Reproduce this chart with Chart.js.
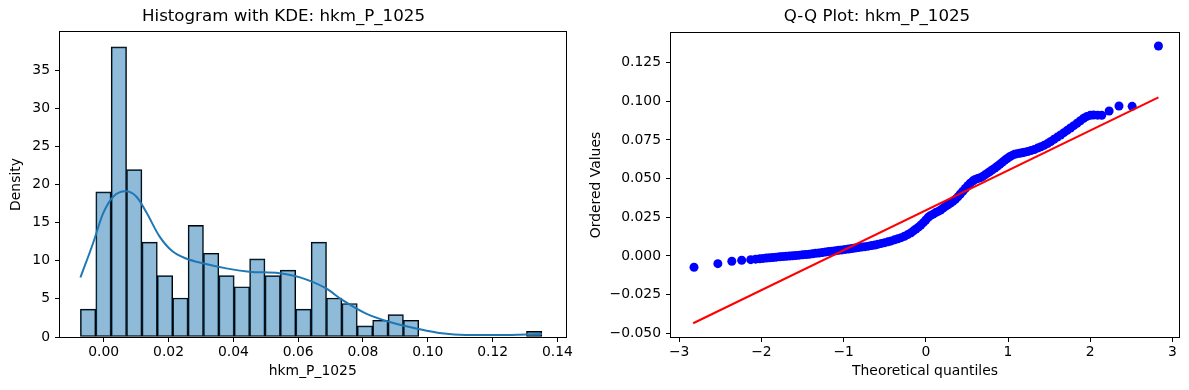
<!DOCTYPE html>
<html>
<head>
<meta charset="utf-8">
<script src="https://cdn.jsdelivr.net/npm/chart.js@4"></script>
<style>
  body { margin: 0; background: #fff; }
  canvas { position: absolute; top: 0; }
</style>
</head>
<body>
<canvas id="histChart" width="575" height="390" style="left:0"></canvas>
<canvas id="qqChart" width="614" height="390" style="left:575px"></canvas>
<script>
const varName = "hkm_P_1025";

// histogram: 30 equal bins from sample min to sample max
const binLow = -0.0072;
const binHigh = 0.1352;
const density = [3.66, 19.03, 38.05, 21.95, 12.44, 8.05, 5.12, 14.64, 10.98, 8.05,
                 6.59, 10.25, 8.05, 8.78, 3.66, 12.44, 5.12, 4.39, 1.46, 2.20,
                 2.93, 2.20, 0, 0, 0, 0, 0, 0, 0, 0.73];

// kde curve
const kdeX = [-0.0072, -0.0033, -0.0002, 0.0029, 0.0068, 0.0101, 0.0131, 0.0172, 0.0213, 0.0254,
              0.0306, 0.0378, 0.0449, 0.0542, 0.0603, 0.0685, 0.0736, 0.0808, 0.0880, 0.0972,
              0.1043, 0.1116, 0.1218, 0.1280, 0.1352];
const kdeY = [7.8, 12.3, 16.2, 18.4, 19.1, 18.4, 16.4, 13.2, 11.2, 10.3,
              9.67, 9.0, 8.57, 8.36, 7.85, 6.4, 4.86, 3.1, 2.0, 1.05,
              0.48, 0.26, 0.26, 0.3, 0.39];

const histXTicks = [0, 0.02, 0.04, 0.06, 0.08, 0.10, 0.12, 0.14];
const histYTicks = [0, 5, 10, 15, 20, 25, 30, 35];

// Q-Q plot: theoretical quantile vs ordered value
const qqX = [-2.82, -2.53, -2.36, -2.24, -2.13, -2.07, -2.02, -1.98, -1.94, -1.90,
             -1.86, -1.82, -1.78, -1.74, -1.70, -1.66, -1.62, -1.58, -1.54, -1.50,
             -1.46, -1.42, -1.38, -1.34, -1.30, -1.26, -1.22, -1.18, -1.14, -1.10,
             -1.06, -1.02, -0.98, -0.94, -0.90, -0.86, -0.82, -0.78, -0.74, -0.70,
             -0.66, -0.62, -0.58, -0.54, -0.50, -0.46, -0.42, -0.38, -0.34, -0.30,
             -0.26, -0.22, -0.18, -0.15, -0.12, -0.09, -0.06, -0.03, 0.00, 0.03,
             0.06, 0.09, 0.12, 0.15, 0.18, 0.21, 0.24, 0.27, 0.30, 0.33,
             0.36, 0.39, 0.42, 0.45, 0.48, 0.51, 0.54, 0.57, 0.60, 0.63,
             0.66, 0.69, 0.72, 0.75, 0.78, 0.81, 0.84, 0.87, 0.90, 0.93,
             0.96, 0.99, 1.02, 1.05, 1.08, 1.11, 1.14, 1.17, 1.20, 1.24,
             1.28, 1.32, 1.36, 1.40, 1.44, 1.48, 1.52, 1.56, 1.60, 1.64,
             1.68, 1.72, 1.76, 1.80, 1.84, 1.88, 1.92, 1.96, 2.00, 2.04,
             2.09, 2.14, 2.23, 2.35, 2.51, 2.83];
const qqY = [-0.0073, -0.0050, -0.0034, -0.0028, -0.0024, -0.0021, -0.0018, -0.0016, -0.0014, -0.0012,
             -0.0010, -0.0008, -0.0006, -0.0004, -0.0002, -0.0001, 0.0001, 0.0003, 0.0005, 0.0007,
             0.0009, 0.0011, 0.0014, 0.0017, 0.0019, 0.0022, 0.0025, 0.0028, 0.0030, 0.0033,
             0.0036, 0.0039, 0.0042, 0.0045, 0.0048, 0.0051, 0.0054, 0.0057, 0.0060, 0.0063,
             0.0067, 0.0071, 0.0076, 0.0081, 0.0086, 0.0091, 0.0097, 0.0104, 0.0111, 0.0118,
             0.0127, 0.0138, 0.0150, 0.0162, 0.0174, 0.0186, 0.0200, 0.0215, 0.0232, 0.0250,
             0.0262, 0.0270, 0.0280, 0.0288, 0.0297, 0.0309, 0.0320, 0.0331, 0.0342, 0.0353,
             0.0366, 0.0382, 0.0400, 0.0418, 0.0436, 0.0454, 0.0470, 0.0484, 0.0494, 0.0500,
             0.0505, 0.0513, 0.0524, 0.0535, 0.0546, 0.0557, 0.0568, 0.0580, 0.0592, 0.0605,
             0.0618, 0.0630, 0.0641, 0.0650, 0.0657, 0.0661, 0.0664, 0.0667, 0.0670, 0.0675,
             0.0681, 0.0688, 0.0697, 0.0706, 0.0715, 0.0726, 0.0740, 0.0754, 0.0768, 0.0782,
             0.0797, 0.0812, 0.0827, 0.0842, 0.0858, 0.0874, 0.0890, 0.0902, 0.0909, 0.0911,
             0.0910, 0.0909, 0.0937, 0.0969, 0.0967, 0.1357];
const fitX = [-2.83, 2.83];
const fitY = [-0.0435, 0.1025];

const qqXTicks = [-3, -2, -1, 0, 1, 2, 3];
const qqYTicks = [-0.05, -0.025, 0, 0.025, 0.05, 0.075, 0.1, 0.125];

Chart.defaults.font.family = "'DejaVu Sans', sans-serif";
Chart.defaults.font.size = 13.9;
Chart.defaults.color = "#000";

// matplotlib style minus sign
const minus = s => s.replace("-", "\u2212");

// box around the plot area (all four spines)
const framePlugin = {
    id: "frame",
    afterDatasetsDraw(chart) {
        const a = chart.chartArea;
        const ctx = chart.ctx;
        ctx.save();
        ctx.strokeStyle = "#000";
        ctx.lineWidth = 1;
        const l = Math.round(a.left) - 0.5, t = Math.round(a.top) - 0.5;
        const r = Math.round(a.right) + 0.5, b = Math.round(a.bottom) + 0.5;
        ctx.strokeRect(l, t, r - l, b - t);
        ctx.restore();
    }
};

function makeAxis(opts) {
    return {
        type: "linear",
        min: opts.min,
        max: opts.max,
        offset: false,
        afterBuildTicks: s => { s.ticks = opts.ticks.map(v => ({ value: v })); },
        afterFit: s => { if (opts.width) s.width = opts.width; if (opts.height) s.height = opts.height; },
        grid: { drawOnChartArea: false, drawTicks: true, tickLength: 5, color: "#000", offset: false },
        border: { display: false },
        ticks: { padding: opts.pad, autoSkip: false, maxRotation: 0, callback: opts.fmt },
        title: { display: true, text: opts.title, font: { size: 13.9 }, padding: opts.titlePad }
    };
}

const titleOpts = (text, bottom) => ({
    display: true,
    text: text,
    font: { size: 16.67, weight: "normal" },
    color: "#000",
    padding: { top: 7, bottom: bottom }
});

// left: histogram with kde
const binWidth = (binHigh - binLow) / density.length;
const histData = density.map((d, i) => ({ x: binLow + binWidth * (i + 0.5), y: d }));
const kdeData = kdeX.map((x, i) => ({ x: x, y: kdeY[i] }));

new Chart(document.getElementById("histChart"), {
    type: "bar",
    data: {
        datasets: [
            {
                type: "line",
                data: kdeData,
                borderColor: "#1f77b4",
                borderWidth: 2,
                pointRadius: 0,
                cubicInterpolationMode: "monotone",
                order: 0
            },
            {
                data: histData,
                backgroundColor: "rgba(31, 119, 180, 0.5)",
                borderColor: "#000",
                borderWidth: 1,
                borderSkipped: false,
                barPercentage: 1,
                categoryPercentage: 1,
                order: 1
            }
        ]
    },
    options: {
        responsive: false,
        animation: false,
        layout: { padding: { left: 0, right: 8, top: 0, bottom: 0 } },
        plugins: {
            legend: { display: false },
            tooltip: { enabled: false },
            title: titleOpts("Histogram with KDE: " + varName, 5)
        },
        scales: {
            x: makeAxis({ min: -0.0135, max: 0.1425, ticks: histXTicks, height: 53, pad: 2,
                          fmt: v => v.toFixed(2), title: varName, titlePad: { top: 0, bottom: 10 } }),
            y: makeAxis({ min: 0, max: 40, ticks: histYTicks, width: 60, pad: 5,
                          fmt: v => String(v), title: "Density", titlePad: { top: 8, bottom: 0 } })
        }
    },
    plugins: [framePlugin]
});

// right: Q-Q plot
const qqData = qqX.map((x, i) => ({ x: x, y: qqY[i] }));
const fitData = fitX.map((x, i) => ({ x: x, y: fitY[i] }));

new Chart(document.getElementById("qqChart"), {
    type: "scatter",
    data: {
        datasets: [
            {
                type: "line",
                data: fitData,
                borderColor: "#ff0000",
                borderWidth: 2,
                pointRadius: 0,
                order: 1
            },
            {
                data: qqData,
                backgroundColor: "#0000ff",
                borderWidth: 0,
                pointRadius: 4.5,
                order: 2
            }
        ]
    },
    options: {
        responsive: false,
        animation: false,
        layout: { padding: { left: 0, right: 10, top: 0, bottom: 0 } },
        plugins: {
            legend: { display: false },
            tooltip: { enabled: false },
            title: titleOpts("Q-Q Plot: " + varName, 6)
        },
        scales: {
            x: makeAxis({ min: -3.10, max: 3.08, ticks: qqXTicks, height: 53, pad: 2,
                          fmt: v => minus(String(v)), title: "Theoretical quantiles",
                          titlePad: { top: 0, bottom: 10 } }),
            y: makeAxis({ min: -0.0524, max: 0.1441, ticks: qqYTicks, width: 96, pad: 5,
                          fmt: v => minus(v.toFixed(3)), title: "Ordered Values",
                          titlePad: { top: 13, bottom: 0 } })
        }
    },
    plugins: [framePlugin]
});
</script>
</body>
</html>
